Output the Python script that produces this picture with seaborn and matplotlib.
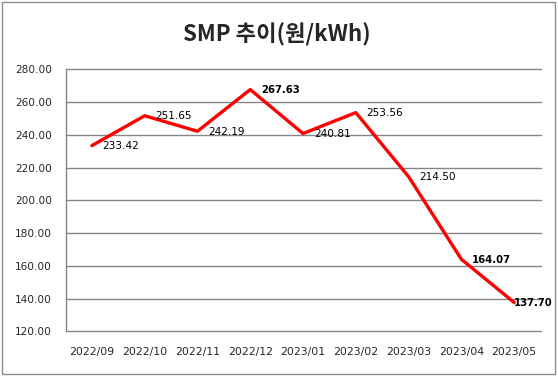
import pandas as pd
import seaborn as sns
import matplotlib.pyplot as plt
from matplotlib.patches import Rectangle

months = ["2022/09", "2022/10", "2022/11", "2022/12", "2023/01",
          "2023/02", "2023/03", "2023/04", "2023/05"]
smp = [233.42, 251.65, 242.19, 267.63, 240.81, 253.56, 214.50, 164.07, 137.70]
bold_labels = [False, False, False, True, False, False, False, True, True]

df = pd.DataFrame({"month": months, "smp": smp})

sns.set_style("white")
plt.rcParams["font.family"] = ["DejaVu Sans"]

fig = plt.figure(figsize=(5.58, 3.76), dpi=100)
ax = fig.add_axes([0.1174, 0.1184, 0.8513, 0.6973])

sns.lineplot(data=df, x="month", y="smp", color="#ff0000", linewidth=2.4, ax=ax, sort=False)

# labels sit right of each point; the last one is pulled in to stay inside the frame
for i, (v, b) in enumerate(zip(smp, bold_labels)):
    dx = 0 if i == len(smp) - 1 else 7.8
    ax.annotate(f"{v:.2f}", (i, v), xytext=(dx, -0.5), textcoords="offset points",
                ha="left", va="center", fontsize=7.3 if b else 7.6,
                fontweight="bold" if b else "normal", color="black")

ax.set_xlim(-0.5, len(months) - 0.5)
ax.set_ylim(120, 280)
yt = list(range(120, 281, 20))
ax.set_yticks(yt)
ax.set_yticklabels([f"{t:.2f}" for t in yt])
for t in yt:
    ax.axhline(t, color="#868686", linewidth=1, zorder=0, clip_on=False)
for s in ["top", "right", "bottom"]:
    ax.spines[s].set_visible(False)
ax.spines["left"].set_color("#868686")
ax.spines["left"].set_linewidth(1)
ax.tick_params(axis="x", length=0, pad=11, labelsize=7.8)
ax.tick_params(axis="y", length=0, pad=9.7, labelsize=7.6)
ax.set_xlabel("")
ax.set_ylabel("")

fig.text(277 / 558, 1 - 34.5 / 376, "SMP 추이(원/kWh)", ha="center", va="center", fontsize=16,
         fontweight="bold", family=["Noto Sans CJK KR", "DejaVu Sans"])

fig.patches.append(Rectangle((0.003, 0.004), 0.992, 0.99, transform=fig.transFigure,
                             fill=False, edgecolor="#8c8c8c", linewidth=1))

fig.savefig("out.png", dpi=100)
